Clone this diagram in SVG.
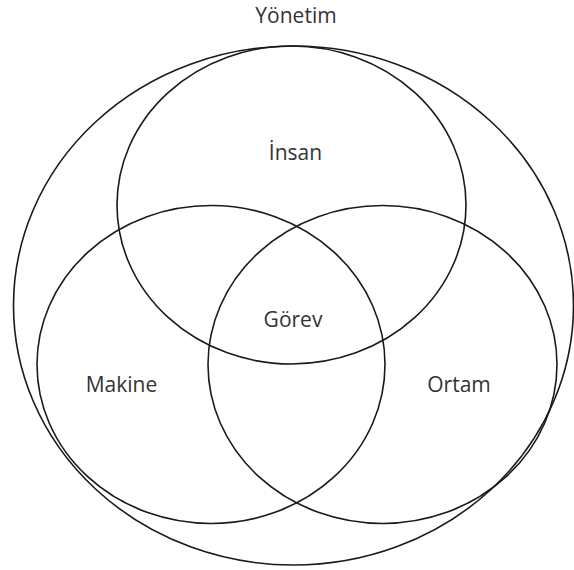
<svg xmlns="http://www.w3.org/2000/svg" width="574" height="570" viewBox="0 0 574 570">
<style>
.c{fill:none;stroke:#1a1a1a;stroke-width:1.6}
.t{font-family:"Open Sans","Liberation Sans",sans-serif;font-size:21px;fill:#333;text-anchor:middle}
</style>
<rect width="574" height="570" fill="#fff"/>
<g id="yonetim"><ellipse class="c" cx="293.5" cy="305.5" rx="280" ry="259.5"/><text class="t" x="296" y="23">Yönetim</text></g>
<g id="insan"><ellipse class="c" cx="291.5" cy="205" rx="174.5" ry="159"/><text class="t" x="295.5" y="160">İnsan</text></g>
<g id="makine"><ellipse class="c" cx="211" cy="364.5" rx="174" ry="159"/><text class="t" x="121.5" y="392">Makine</text></g>
<g id="ortam"><ellipse class="c" cx="382.5" cy="364.5" rx="174.5" ry="159"/><text class="t" x="459" y="392">Ortam</text></g>
<g id="gorev"><text class="t" x="293" y="327">Görev</text></g>
<g id="connectors"></g>
</svg>
